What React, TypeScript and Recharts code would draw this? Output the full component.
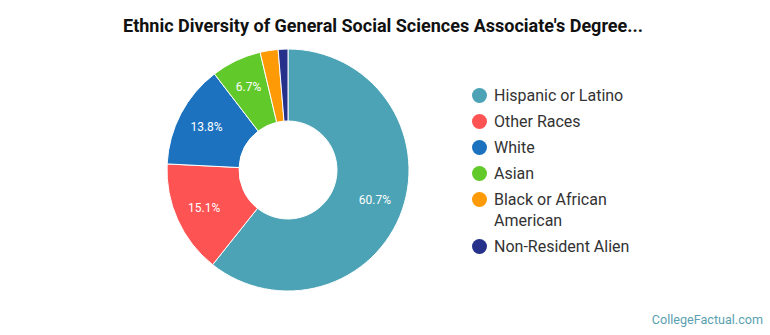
import React from 'react'
import { PieChart, Pie, Cell, Legend } from 'recharts'

const categories = [
  'Hispanic or Latino',
  'Other Races',
  'White',
  'Asian',
  'Black or African American',
  'Non-Resident Alien',
]
const shares = [60.7, 15.1, 13.8, 6.7, 2.4, 1.3]
const colors = ['#4ba3b5', '#fd5353', '#1c72bf', '#62c92a', '#fd9a06', '#25318a']

const data = categories.map((name, i) => ({ name, value: shares[i], color: colors[i] }))

const RADIAN = Math.PI / 180

const renderLabel = ({ cx, cy, midAngle, value }: any) => {
  if (value < 5) return null
  const r = 92
  const x = cx + r * Math.cos(-midAngle * RADIAN)
  const y = cy + r * Math.sin(-midAngle * RADIAN)
  return (
    <text
      x={x}
      y={y}
      fill="#fff"
      fontSize={12}
      fontFamily="Roboto"
      textAnchor="middle"
      dominantBaseline="central"
    >
      {value.toFixed(1)}%
    </text>
  )
}

const LegendContent = () => (
  <div style={{ fontFamily: 'Roboto', fontSize: 16, color: '#333' }}>
    {data.map((d) => (
      <div
        key={d.name}
        style={{ display: 'flex', alignItems: 'flex-start', marginBottom: 5, width: 160 }}
      >
        <span
          style={{
            width: 15,
            height: 15,
            borderRadius: '50%',
            background: d.color,
            flexShrink: 0,
            marginTop: 3,
            marginRight: 7,
          }}
        />
        <span style={{ lineHeight: '21px' }}>{d.name}</span>
      </div>
    ))}
  </div>
)

export default function App() {
  return (
    <div style={{ position: 'absolute', left: 0, top: 0, width: 770, height: 335, background: '#fff' }}>
      <div
        style={{
          position: 'absolute',
          top: 15,
          left: 0,
          width: 766,
          textAlign: 'center',
          fontFamily: 'Roboto',
          fontWeight: 'bold',
          fontSize: 18,
          color: '#111',
        }}
      >
        Ethnic Diversity of General Social Sciences Associate's Degree...
      </div>
      <PieChart width={770} height={335} margin={{ top: 0, right: 0, bottom: 0, left: 0 }}>
        <Pie
          data={data}
          dataKey="value"
          nameKey="name"
          cx={288}
          cy={170}
          innerRadius={49}
          outerRadius={121}
          startAngle={90}
          endAngle={-270}
          stroke="#fff"
          strokeWidth={1}
          label={renderLabel}
          labelLine={false}
          isAnimationActive={false}
        >
          {data.map((d) => (
            <Cell key={d.name} fill={d.color} />
          ))}
        </Pie>
        <Legend
          content={<LegendContent />}
          wrapperStyle={{ position: 'absolute', left: 472, top: 85, width: 180 }}
        />
      </PieChart>
      <div
        style={{
          position: 'absolute',
          right: 7,
          top: 312,
          fontFamily: 'Roboto',
          fontSize: 12.6,
          color: '#5a9fb0',
        }}
      >
        CollegeFactual.com
      </div>
    </div>
  )
}
